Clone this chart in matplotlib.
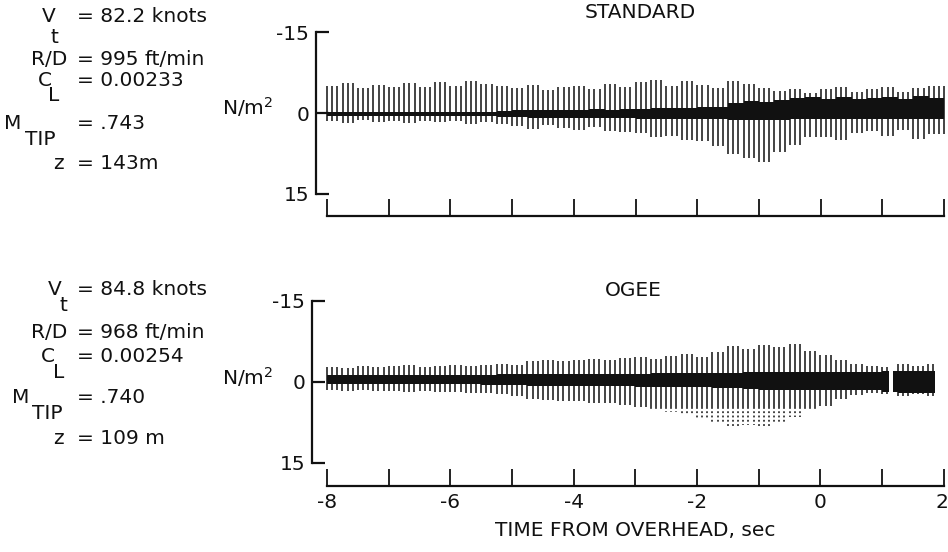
import numpy as np
import matplotlib
matplotlib.use('Agg')
import matplotlib.pyplot as plt
from matplotlib.transforms import ScaledTranslation

W, H = 948, 552

# blade passage rate (pulses per second) and envelope bin size
bpf = 12.0
bin_width = 0.25
t_start = -8.0

# envelope values, one per 0.25 s starting at -8 s, in N/m^2
# peak = height of upward pulse (negative pressure), trough = depth of downward part
std_peak = [5.0, 5.6, 4.6, 5.3, 4.8, 5.5, 4.9, 5.7, 5.1, 6.0, 5.4, 5.0,
            4.6, 5.2, 4.2, 4.8, 5.1, 4.5, 5.4, 4.9, 5.8, 6.1, 5.0, 5.9,
            5.3, 4.6, 6.0, 5.4, 4.6, 4.1, 4.5, 3.8, 4.4, 4.8, 3.9, 4.5,
            4.9, 4.0, 4.6, 5.0]
std_trough = [1.4, 1.8, 1.3, 1.6, 1.5, 1.9, 1.4, 1.7, 1.5, 2.0, 1.6, 2.1,
              2.4, 2.9, 2.3, 2.8, 3.1, 2.6, 3.3, 3.6, 3.8, 4.4, 4.2, 5.0,
              5.2, 6.1, 7.6, 8.4, 9.2, 7.2, 6.0, 4.4, 4.4, 5.0, 3.8, 3.4,
              4.2, 3.2, 4.8, 4.0]
std_band_up = [0.2, 0.2, 0.2, 0.2, 0.2, 0.2, 0.2, 0.2, 0.2, 0.2, 0.2, 0.3,
               0.5, 0.5, 0.6, 0.5, 0.6, 0.7, 0.6, 0.7, 0.8, 0.9, 1.0, 0.9,
               1.1, 1.2, 1.8, 2.2, 2.0, 2.4, 2.8, 3.0, 2.6, 3.0, 2.6, 2.8,
               3.0, 2.7, 3.1, 2.8]
std_band_dn = [0.5, 0.5, 0.5, 0.5, 0.5, 0.5, 0.5, 0.5, 0.5, 0.5, 0.6, 0.7,
               0.8, 0.9, 0.9, 0.9, 0.9, 1.0, 0.9, 1.0, 1.1, 1.1, 1.1, 1.1,
               1.2, 1.2, 1.3, 1.3, 1.3, 1.3, 1.2, 1.2, 1.2, 1.2, 1.2, 1.2,
               1.2, 1.2, 1.2, 1.2]
std_segments = [(-8.0, 2.0)]

ogee_peak = [2.8, 2.5, 3.0, 2.7, 2.9, 3.1, 2.7, 3.0, 3.2, 2.9, 3.1, 3.3,
             3.2, 3.9, 4.1, 3.8, 4.0, 4.3, 4.0, 4.4, 4.7, 4.3, 4.9, 5.1,
             4.6, 5.5, 6.6, 6.1, 6.9, 6.4, 7.0, 5.8, 5.0, 4.0, 3.4, 3.0,
             2.8, 3.3, 2.9, 3.3]
ogee_trough = [1.5, 1.7, 1.4, 1.7, 1.6, 1.9, 1.6, 1.9, 1.8, 2.1, 2.0, 2.3,
               2.6, 3.1, 3.3, 3.6, 3.5, 3.9, 3.8, 4.3, 4.6, 5.3, 5.6, 6.2,
               6.8, 7.7, 8.3, 7.9, 8.5, 7.7, 6.5, 5.2, 4.4, 3.2, 2.4, 2.0,
               2.2, 2.6, 2.3, 2.6]
ogee_band_up = [1.3, 1.3, 1.3, 1.3, 1.3, 1.3, 1.3, 1.3, 1.3, 1.3, 1.3, 1.4,
                1.4, 1.5, 1.5, 1.5, 1.5, 1.5, 1.5, 1.5, 1.5, 1.6, 1.6, 1.6,
                1.6, 1.7, 1.7, 1.8, 1.9, 1.9, 1.9, 1.9, 1.9, 1.9, 1.9, 1.9,
                2.0, 2.1, 2.1, 2.1]
ogee_band_dn = [0.3, 0.3, 0.3, 0.3, 0.3, 0.3, 0.4, 0.4, 0.4, 0.4, 0.5, 0.5,
                0.6, 0.7, 0.8, 0.8, 0.8, 0.8, 0.8, 0.8, 0.9, 0.9, 1.0, 1.0,
                1.0, 1.1, 1.2, 1.3, 1.5, 1.5, 1.5, 1.5, 1.5, 1.5, 1.5, 1.5,
                1.8, 2.0, 2.0, 2.0]
ogee_segments = [(-8.0, 1.12), (1.18, 1.85)]

std_params = ['= 82.2 knots', '= 995 ft/min', '= 0.00233', '= .743', '= 143m']
ogee_params = ['= 84.8 knots', '= 968 ft/min', '= 0.00254', '= .740', '= 109 m']

FS = 14.5
INK = '#111111'


def px(x, y):
    return x / W, 1 - y / H


def bin_index(t):
    i = np.floor((np.asarray(t) - t_start) / bin_width + 1e-9).astype(int)
    return np.clip(i, 0, 39)


def draw_trace(ax, peak, trough, band_up, band_dn, segments, solid_limit=None):
    peak = np.array(peak)
    trough = np.array(trough)
    band_up = np.array(band_up)
    band_dn = np.array(band_dn)

    # dense dark band around zero, per segment
    edges = t_start + np.arange(41) * bin_width
    for s0, s1 in segments:
        xs = np.concatenate([[s0], edges[(edges > s0) & (edges < s1)], [s1]])
        i = bin_index(xs)
        i[-1] = i[-2]
        ax.fill_between(xs, -band_up[i], band_dn[i], step='post', color=INK, lw=0)

    # one pulse per blade passage
    t = t_start + np.arange(int(10.2 * bpf)) / bpf
    keep = np.zeros(len(t), bool)
    for s0, s1 in segments:
        keep |= (t >= s0) & (t <= s1)
    t = t[keep]
    i = bin_index(t)
    lo = trough[i]
    if solid_limit is None:
        ax.vlines(t, -peak[i], lo, color=INK, lw=1.1)
    else:
        ax.vlines(t, -peak[i], np.minimum(lo, solid_limit), color=INK, lw=1.1)
        deep = lo > solid_limit
        ax.vlines(t[deep], solid_limit, lo[deep], color=INK, lw=1.1,
                  linestyles=(0, (1.2, 1.6)))


def style_axes(ax, xlim, ylim, show_labels):
    ax.set_xlim(*xlim)
    ax.set_ylim(*ylim)
    for s in ['top', 'right']:
        ax.spines[s].set_visible(False)
    ax.spines['left'].set_bounds(-15, 15)
    ax.spines['bottom'].set_bounds(-8, 2)
    for s in ['left', 'bottom']:
        ax.spines[s].set_linewidth(1.6)
        ax.spines[s].set_color(INK)
    ax.set_yticks([-15, 0, 15])
    ax.set_yticklabels(['-15', '0', '15'])
    ax.tick_params(axis='y', direction='in', length=9, width=1.6,
                   labelsize=FS, pad=5, colors=INK)
    ax.set_xticks(np.arange(-8, 3, 2))
    ax.set_xticks(np.arange(-7, 2, 2), minor=True)
    ax.set_xticklabels([str(v) for v in range(-8, 3, 2)])
    ax.tick_params(axis='x', which='both', direction='in', length=12,
                   width=1.3, labelsize=FS, pad=5, colors=INK,
                   labelbottom=show_labels)
    ax.patch.set_alpha(0)


fig = plt.figure(figsize=(W / 100, H / 100), dpi=100)

# top panel: STANDARD
ax1 = fig.add_axes([316 / W, 1 - 216.1 / H, 629.3 / W, (216.1 - 29.8) / H])
draw_trace(ax1, std_peak, std_trough, std_band_up, std_band_dn, std_segments)
style_axes(ax1, (-8.18, 2.02), (19.2, -15.5), False)

# bottom panel: OGEE
ax2 = fig.add_axes([312 / W, 1 - 486.2 / H, 633 / W, (486.2 - 298.3) / H])
draw_trace(ax2, ogee_peak, ogee_trough, ogee_band_up, ogee_band_dn,
           ogee_segments, solid_limit=4.6)
style_axes(ax2, (-8.243, 2.02), (19.3, -15.5), True)
# keep the last time label inside the figure
last = ax2.get_xticklabels()[-1]
last.set_horizontalalignment('right')
last.set_transform(last.get_transform() + ScaledTranslation(5 / 100, 0, fig.dpi_scale_trans))

fig.text(*px(640, 13), 'STANDARD', ha='center', va='center', fontsize=FS, color=INK)
fig.text(*px(633, 290), 'OGEE', ha='center', va='center', fontsize=FS, color=INK)
fig.text(*px(635, 531), 'TIME FROM OVERHEAD, sec', ha='center', va='center',
         fontsize=FS, color=INK)
fig.text(*px(222, 107), 'N/m$^2$', ha='left', va='center', fontsize=FS, color=INK)
fig.text(*px(222, 377), 'N/m$^2$', ha='left', va='center', fontsize=FS, color=INK)


def txt(x, y, s, ha='center', va='baseline'):
    fig.text(*px(x, y), s, ha=ha, va=va, fontsize=FS, color=INK)


# parameter block, top (y = baseline in pixels)
txt(49, 22, 'V'); txt(54, 43, 't')
txt(67, 65, 'R/D', ha='right')
txt(45, 86, 'C'); txt(54, 101, 'L')
txt(13, 129, 'M'); txt(25, 145, 'TIP', ha='left')
txt(58, 169, 'z')
for y, s in zip([22, 65, 86, 129, 169], std_params):
    txt(77, y, s, ha='left')

# parameter block, bottom
txt(55, 295, 'V'); txt(63, 311, 't')
txt(67, 338, 'R/D', ha='right')
txt(48, 362, 'C'); txt(59, 378, 'L')
txt(21, 403, 'M'); txt(32, 419, 'TIP', ha='left')
txt(58, 444, 'z')
for y, s in zip([295, 338, 362, 403, 444], ogee_params):
    txt(77, y, s, ha='left')

fig.savefig('out.png', dpi=100, facecolor='white')
